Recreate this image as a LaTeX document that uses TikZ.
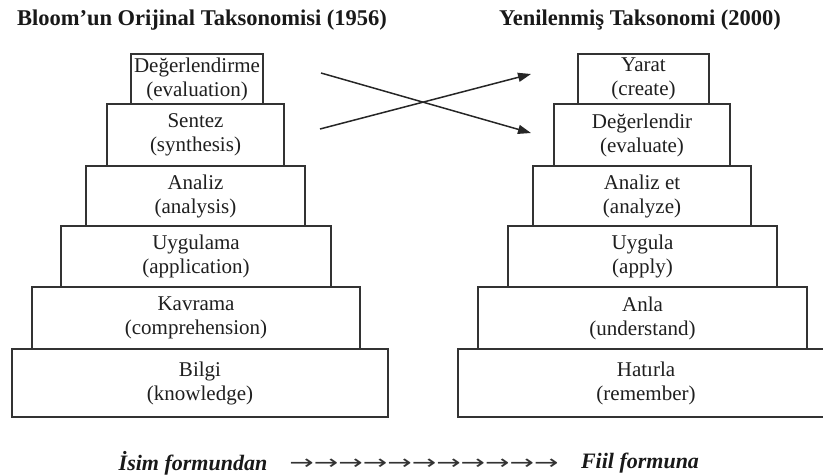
\documentclass[tikz,border=0pt]{standalone}
\usepackage{fontspec}
\usepackage{graphicx}
\setmainfont{Liberation Serif}
\newfontfamily\arrowfont{DejaVu Sans}
\usetikzlibrary{arrows.meta}
\begin{document}
\begin{tikzpicture}[x=1pt,y=-1pt,
  lvl/.style={draw=black!80, line width=1.4pt, inner sep=0pt, align=center,
    text=black!88, font=\fontsize{21}{24}\selectfont},
  ttl/.style={text=black!90, font=\fontsize{22.5}{27}\selectfont\bfseries},
  foot/.style={text=black!90, font=\fontsize{22}{26}\selectfont\bfseries\itshape},
  cross/.style={draw=black!85, line width=1.5pt, -{Triangle[length=13pt,width=9pt]}}]
\useasboundingbox (0,0) rectangle (823,475);
\fill[white] (0,0) rectangle (823,475);
% titles
\node[ttl] (t1) at (202,20) {Bloom’un Orijinal Taksonomisi (1956)};
\node[ttl] (t2) at (640,20) {Yenilenmiş Taksonomi (2000)};
% left pyramid (bottom first so upper boxes overlap)
\node[lvl, minimum width=376, minimum height=68] (l6) at (200,383) {Bilgi\\(knowledge)};
\node[lvl, minimum width=328, minimum height=62] (l5) at (196,318) {Kavrama\\(comprehension)};
\node[lvl, minimum width=270, minimum height=61] (l4) at (196,256.5) {Uygulama\\(application)};
\node[lvl, minimum width=219, minimum height=60] (l3) at (195.5,196) {Analiz\\(analysis)};
\node[lvl, minimum width=177, minimum height=62] (l2) at (195.5,135) {Sentez\\(synthesis)};
\node[lvl, minimum width=132, minimum height=50] (l1) at (197,79) {Değerlendirme\\(evaluation)};
% right pyramid
\node[lvl, minimum width=376, minimum height=68] (r6) at (646,383) {Hatırla\\(remember)};
\node[lvl, minimum width=329, minimum height=62] (r5) at (642.5,318) {Anla\\(understand)};
\node[lvl, minimum width=269, minimum height=61] (r4) at (642.5,256.5) {Uygula\\(apply)};
\node[lvl, minimum width=218, minimum height=60] (r3) at (642,196) {Analiz et\\(analyze)};
\node[lvl, minimum width=176, minimum height=62] (r2) at (642,135) {Değerlendir\\(evaluate)};
\node[lvl, minimum width=131, minimum height=50] (r1) at (643.5,79) {Yarat\\(create)};
% crossing arrows
\coordinate (a1s) at (321,73);
\coordinate (a1e) at (531,133);
\coordinate (a2s) at (320,129);
\coordinate (a2e) at (531,74);
\draw[cross] (a1s) -- (a1e);
\draw[cross] (a2s) -- (a2e);
% footer
\node[foot] (f1) at (193,463) {İsim formundan};
\node[text=black!80, inner sep=0pt] (f2) at (424,464) {\scalebox{1.46}[1]{\arrowfont\fontsize{20}{24}\selectfont →→→→→→→→→→→}};
\node[foot] (f3) at (640,463) {Fiil formuna};
\end{tikzpicture}
\end{document}
